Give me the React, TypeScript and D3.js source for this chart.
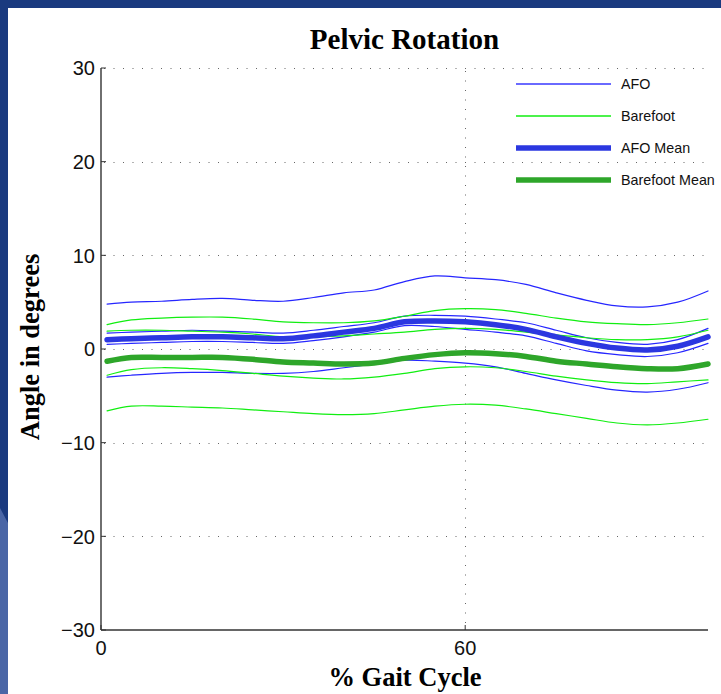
import React from "react";
import * as d3 from "d3";

const gaitPct = [1, 5, 10, 15, 20, 25, 30, 35, 40, 45, 50, 55, 60, 65, 70, 75, 80, 85, 90, 95, 100];

const afo1 = [4.8, 5.0, 5.1, 5.3, 5.4, 5.2, 5.1, 5.5, 6.0, 6.3, 7.2, 7.8, 7.6, 7.4, 6.9, 6.0, 5.2, 4.6, 4.5, 5.0, 6.2];
const afo2 = [1.7, 1.8, 1.9, 2.0, 1.9, 1.8, 1.7, 2.0, 2.4, 2.8, 3.5, 3.6, 3.5, 3.2, 2.8, 2.0, 1.2, 0.7, 0.5, 1.0, 2.2];
const afo3 = [0.5, 0.6, 0.7, 0.8, 0.8, 0.7, 0.6, 0.9, 1.3, 1.8, 2.5, 2.4, 2.1, 1.8, 1.4, 0.6, -0.2, -0.6, -0.8, -0.4, 0.6];
const afo4 = [-3.0, -2.8, -2.6, -2.5, -2.5, -2.6, -2.6, -2.4, -2.0, -1.6, -1.2, -1.3, -1.5, -1.9, -2.6, -3.3, -3.9, -4.4, -4.6, -4.3, -3.6];
const afoMean = [1.0, 1.1, 1.2, 1.3, 1.3, 1.2, 1.1, 1.4, 1.8, 2.2, 2.9, 3.0, 2.9, 2.6, 2.1, 1.3, 0.6, 0.1, -0.1, 0.3, 1.3];

const bare1 = [2.6, 3.1, 3.3, 3.4, 3.4, 3.2, 2.9, 2.8, 2.8, 3.0, 3.5, 4.1, 4.3, 4.2, 3.8, 3.3, 2.9, 2.7, 2.6, 2.8, 3.2];
const bare2 = [1.9, 2.0, 2.0, 1.9, 1.8, 1.6, 1.3, 1.3, 1.4, 1.6, 1.8, 2.1, 2.2, 2.1, 1.8, 1.5, 1.2, 1.0, 1.0, 1.3, 2.0];
const bare3 = [-2.8, -2.2, -2.0, -2.1, -2.3, -2.6, -2.9, -3.1, -3.2, -3.0, -2.6, -2.1, -1.9, -2.0, -2.4, -2.9, -3.3, -3.6, -3.7, -3.5, -3.3];
const bare4 = [-6.6, -6.1, -6.1, -6.2, -6.3, -6.5, -6.7, -6.9, -7.0, -6.9, -6.5, -6.1, -5.9, -6.0, -6.4, -6.9, -7.4, -7.9, -8.1, -7.9, -7.5];
const bareMean = [-1.3, -0.9, -0.9, -0.9, -0.9, -1.1, -1.4, -1.5, -1.6, -1.5, -1.0, -0.6, -0.4, -0.5, -0.8, -1.3, -1.6, -1.9, -2.1, -2.1, -1.6];

const yTicks = [-30, -20, -10, 0, 10, 20, 30];
const xTicks = [0, 60];
const legendLabels = ["AFO", "Barefoot", "AFO Mean", "Barefoot Mean"];

const W = 721;
const H = 694;
const AFO_THIN = "#2626ff";
const BARE_THIN = "#11ee11";
const AFO_MEAN = "#2b37e0";
const BARE_MEAN = "#2ea62a";

export default function App() {
  const x = d3.scaleLinear().domain([0, 100]).range([101, 708]);
  const y = d3.scaleLinear().domain([-30, 30]).range([630, 68]);
  const line = d3
    .line<number>()
    .x((_, i) => x(gaitPct[i]))
    .y((d) => y(d))
    .curve(d3.curveCatmullRom.alpha(0.5));

  const legendStyles = [
    { color: "#6a6aff", w: 1.8 },
    { color: BARE_THIN, w: 1.4 },
    { color: AFO_MEAN, w: 5.5 },
    { color: BARE_MEAN, w: 5.5 },
  ];

  const sans = "'Liberation Sans', Arial, Helvetica, sans-serif";
  const serif = "'Liberation Serif', 'Times New Roman', serif";

  return (
    <svg
      width={W}
      height={H}
      style={{ position: "absolute", left: 0, top: 0, display: "block" }}
    >
      <rect x={0} y={0} width={W} height={H} fill="#1a3a7f" />
      <polygon points={`0,508 8,523 8,${H} 0,${H}`} fill="#4a66a6" />
      <rect x={8} y={8} width={W - 8} height={H - 8} fill="#ffffff" />

      {/* grid */}
      <g stroke="#666" strokeWidth={1} strokeDasharray="1,8.5" fill="none">
        {yTicks
          .filter((t) => t !== -30)
          .map((t) => (
            <line key={t} x1={x(0) + 3} x2={710} y1={Math.round(y(t)) + 0.5} y2={Math.round(y(t)) + 0.5} />
          ))}
        {xTicks
          .filter((t) => t !== 0)
          .map((t) => (
            <line key={t} x1={Math.round(x(t)) + 0.5} x2={Math.round(x(t)) + 0.5} y1={y(30) + 3} y2={y(-30)} />
          ))}
      </g>

      {/* axes */}
      <g stroke="#333" strokeWidth={1.4} fill="none">
        <line x1={x(0)} x2={x(0)} y1={y(30)} y2={y(-30)} />
        <line x1={x(0)} x2={x(100)} y1={y(-30)} y2={y(-30)} />
        {yTicks.map((t) => (
          <line key={t} x1={x(0)} x2={x(0) + 5} y1={y(t)} y2={y(t)} strokeWidth={1} />
        ))}
        {xTicks.map((t) => (
          <line key={t} x1={x(t)} x2={x(t)} y1={y(-30)} y2={y(-30) - 5} strokeWidth={1} />
        ))}
      </g>

      {/* tick labels */}
      <g fontFamily={sans} fontSize={20} fill="#111">
        {yTicks.map((t) => (
          <text key={t} x={95} y={y(t)} dy="0.36em" textAnchor="end">
            {t < 0 ? `\u2212${Math.abs(t)}` : `${t}`}
          </text>
        ))}
        {xTicks.map((t) => (
          <text key={t} x={x(t)} y={655} textAnchor="middle">
            {t}
          </text>
        ))}
      </g>

      {/* data */}
      <g fill="none" strokeLinejoin="round" strokeLinecap="round">
        {[afo1, afo2, afo3, afo4].map((s, i) => (
          <path key={"a" + i} d={line(s) || ""} stroke={AFO_THIN} strokeWidth={1.2} />
        ))}
        {[bare1, bare2, bare3, bare4].map((s, i) => (
          <path key={"b" + i} d={line(s) || ""} stroke={BARE_THIN} strokeWidth={1.2} />
        ))}
        <path d={line(afoMean) || ""} stroke={AFO_MEAN} strokeWidth={5.5} />
        <path d={line(bareMean) || ""} stroke={BARE_MEAN} strokeWidth={5.5} />
      </g>

      {/* legend */}
      <g>
        {legendLabels.map((lab, i) => {
          const ly = 84 + i * 32;
          return (
            <g key={lab}>
              <line x1={516} x2={611} y1={ly} y2={ly} stroke={legendStyles[i].color} strokeWidth={legendStyles[i].w} />
              <text x={621} y={ly} dy="0.36em" fontFamily={sans} fontSize={14.3} fill="#111">
                {lab}
              </text>
            </g>
          );
        })}
      </g>

      {/* titles */}
      <text x={404.5} y={49} textAnchor="middle" fontFamily={serif} fontWeight="bold" fontSize={29} fill="#000">
        Pelvic Rotation
      </text>
      <text x={405} y={686} textAnchor="middle" fontFamily={serif} fontWeight="bold" fontSize={26.5} fill="#000">
        % Gait Cycle
      </text>
      <text
        transform={`translate(39,${y(0) - 2}) rotate(-90)`}
        textAnchor="middle"
        fontFamily={serif}
        fontWeight="bold"
        fontSize={26.5}
        fill="#000"
      >
        Angle in degrees
      </text>
    </svg>
  );
}
